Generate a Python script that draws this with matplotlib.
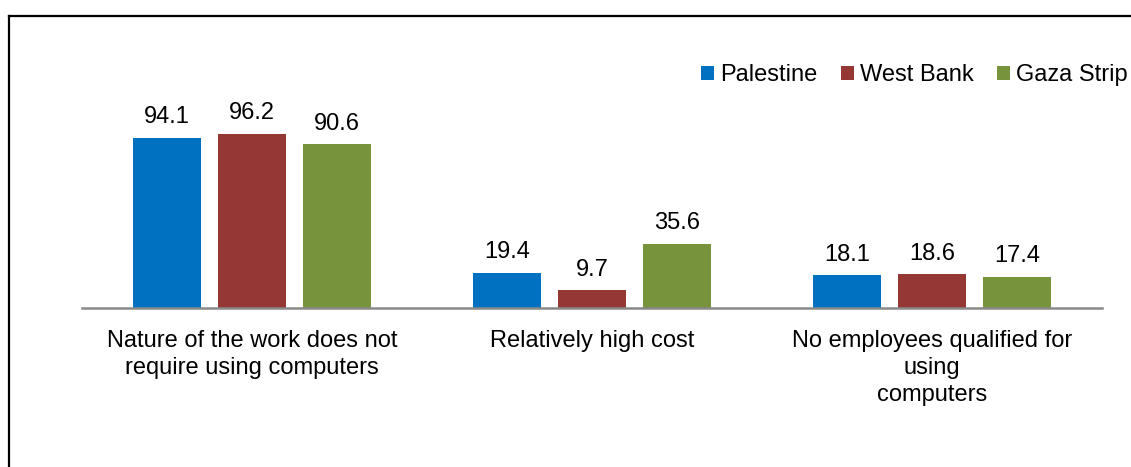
import numpy as np
import matplotlib.pyplot as plt
from matplotlib.lines import Line2D

# data
categories = ["Nature of the work does not\nrequire using computers",
              "Relatively high cost",
              "No employees qualified for\nusing\ncomputers"]
series = ["Palestine", "West Bank", "Gaza Strip"]
palestine = [94.1, 19.4, 18.1]
west_bank = [96.2, 9.7, 18.6]
gaza_strip = [90.6, 35.6, 17.4]
colors = ["#0070C0", "#953735", "#77933C"]

plt.rcParams['font.family'] = ['Liberation Sans', 'DejaVu Sans']

W, H = 1131, 467
fig = plt.figure(figsize=(W / 100, H / 100), dpi=100)
ax = fig.add_axes([82 / W, (H - 308) / H, 1020 / W, 216.8 / H])

x = np.arange(len(categories)) + 0.5
width = 0.2
offsets = [-0.25, 0, 0.25]

for vals, name, col, off in zip([palestine, west_bank, gaza_strip], series, colors, offsets):
    bars = ax.bar(x + off, vals, width, color=col, label=name, zorder=2)
    for b, v in zip(bars, vals):
        ax.annotate(f"{v}", (b.get_x() + b.get_width() / 2, v), xytext=(0, 7),
                    textcoords="offset points", ha="center", va="bottom",
                    fontsize=17, color="black", clip_on=False)

ax.set_xlim(0, 3)
ax.set_ylim(0, 120)
ax.set_xticks(x)
ax.set_xticklabels(categories, fontsize=17, linespacing=1.3)
ax.tick_params(axis="x", length=0, pad=16)
ax.set_yticks([])
for s in ["top", "right", "left"]:
    ax.spines[s].set_visible(False)
ax.spines["bottom"].set_color("#898989")
ax.spines["bottom"].set_linewidth(1.8)

leg = fig.legend(loc="center right", bbox_to_anchor=(1142 / W, 1 - 75 / H), ncol=3,
                 frameon=False, fontsize=17, handlelength=0.55, handleheight=0.55,
                 handletextpad=0.25, columnspacing=1.0, borderpad=0.1)

# outer frame (left and top edges visible)
fig.add_artist(Line2D([9 / W, 9 / W], [0, 1 - 15.5 / H], transform=fig.transFigure,
                      color="black", linewidth=1.6))
fig.add_artist(Line2D([9 / W, 1], [1 - 15.5 / H, 1 - 15.5 / H], transform=fig.transFigure,
                      color="black", linewidth=1.6))

fig.savefig("out.png", dpi=100)
